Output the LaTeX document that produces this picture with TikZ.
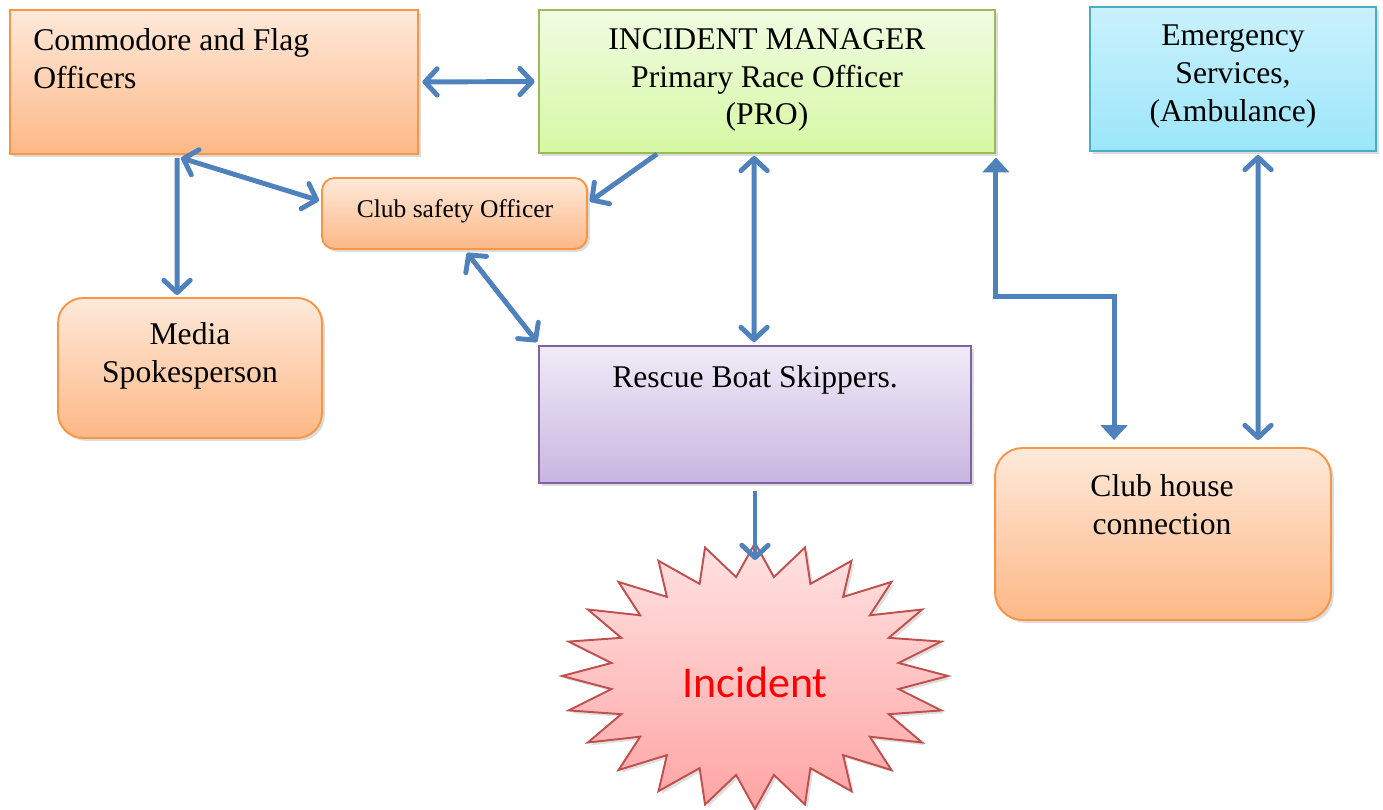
\documentclass[tikz,border=0pt]{standalone}
\usepackage{fontspec}
\setmainfont{Liberation Serif}
\newfontfamily\burstfont{Carlito}
\usetikzlibrary{arrows.meta,shadows,calc}
\definecolor{arrowblue}{HTML}{4F81BD}
\definecolor{orangetop}{HTML}{FEE9DA}
\definecolor{orangebot}{HTML}{FDB886}
\definecolor{orangeedge}{HTML}{F79646}
\definecolor{greentop}{HTML}{F0FCE2}
\definecolor{greenbot}{HTML}{D6F8A3}
\definecolor{greenedge}{HTML}{9BBB59}
\definecolor{bluetop}{HTML}{CAF1FC}
\definecolor{bluebot}{HTML}{9CE6FA}
\definecolor{blueedge}{HTML}{4BACC6}
\definecolor{purptop}{HTML}{F0EBF7}
\definecolor{purpbot}{HTML}{C8B6E1}
\definecolor{purpedge}{HTML}{8064A2}
\definecolor{redtop}{HTML}{FFE2E2}
\definecolor{redbot}{HTML}{FFA4A4}
\definecolor{rededge}{HTML}{C0504D}
\definecolor{incred}{HTML}{FF0000}
\tikzset{
  chev/.tip={Straight Barb[length=7pt,width=15pt,round]},
  tri/.tip={Triangle[length=8.5pt,width=15pt]},
}
\begin{document}
\begin{tikzpicture}[x=0.02cm,y=-0.02cm,
  box/.style={draw, line width=1.1pt, inner sep=0pt,
    drop shadow={opacity=0.28, shadow xshift=1.6pt, shadow yshift=-1.6pt}},
  orangebox/.style={box, draw=orangeedge, top color=orangetop, bottom color=orangebot},
  greenbox/.style={box, draw=greenedge, top color=greentop, bottom color=greenbot},
  bluebox/.style={box, draw=blueedge, top color=bluetop, bottom color=bluebot},
  purpbox/.style={box, draw=purpedge, top color=purptop, bottom color=purpbot},
  txt/.style={font=\fontsize{18}{21.5}\selectfont, align=center, inner sep=0pt},
  conn/.style={draw=arrowblue, line width=2.8pt},
]
\useasboundingbox (0,0) rectangle (1383,810);

% boxes
\node[orangebox, minimum width=8.16cm, minimum height=2.88cm] (cmd) at (214,82) {};
\node[greenbox, minimum width=9.12cm, minimum height=2.86cm] (im) at (767,81.5) {};
\node[bluebox, minimum width=5.72cm, minimum height=2.88cm] (em) at (1233,79) {};
\node[orangebox, rounded corners=0.25cm, minimum width=5.3cm, minimum height=1.42cm] (cso) at (454.5,213.5) {};
\node[orangebox, rounded corners=0.5cm, minimum width=5.28cm, minimum height=2.8cm] (med) at (190,368) {};
\node[purpbox, minimum width=8.64cm, minimum height=2.74cm] (rbs) at (755,414.5) {};
\node[orangebox, rounded corners=0.55cm, minimum width=6.72cm, minimum height=3.44cm] (chc) at (1163,534) {};

% starburst
\path[draw=rededge, line width=1.1pt, top color=redtop, bottom color=redbot,
  drop shadow={opacity=0.25, shadow xshift=1.6pt, shadow yshift=-1.6pt}]
  plot[samples=48, domain=0:47, variable=\k]
  ({755+193*ifthenelse(mod(\k,2)<0.5,1,0.75)*cos(90-7.5*\k)},
   {676-133*ifthenelse(mod(\k,2)<0.5,1,0.75)*sin(90-7.5*\k)}) -- cycle;
\coordinate (burstTop) at (755,560);

% texts
\node[txt, anchor=north west, align=left] (cmdT) at (33,28) {Commodore and Flag\\Officers};
\node[txt] (imT) at (767,80) {INCIDENT MANAGER\\Primary Race Officer\\(PRO)};
\node[txt] (emT) at (1233,76.5) {Emergency\\Services,\\(Ambulance)};
\node[txt, font=\fontsize{14.5}{17}\selectfont] (csoT) at (455,211) {Club safety Officer};
\node[txt] (medT) at (190,356) {Media\\Spokesperson};
\node[txt] (rbsT) at (755,380) {Rescue Boat Skippers.};
\node[txt] (chcT) at (1162,505) {Club house\\connection};
\node[font=\burstfont\fontsize{25}{30}\selectfont, text=incred, inner sep=0pt] (incT) at (755,682) {Incident};

% connectors
\draw[conn, chev-chev] ([xshift=2pt]cmd.east) -- ([xshift=-2pt]im.west);
\draw[conn, chev-chev] ($(cmd.south west)+(172,3)$) -- ($(cso.west)+(-2,-13)$);
\draw[conn, -chev] ($(cmd.south west)+(168,3)$) -- ($(med.north west)+(120,-2)$);
\draw[conn, -chev] ($(im.south west)+(119,0)$) -- ($(cso.east)+(2,-12)$);
\draw[conn, chev-chev] ($(im.south west)+(216,2)$) -- ($(rbs.north west)+(216,-3)$);
\draw[conn, chev-chev] ($(cso.south west)+(146,3)$) -- ($(rbs.north west)+(-1,-3)$);
\draw[conn, tri-tri, line join=miter] ([yshift=-2pt]im.south east) |- ($(chc.north west)+(120,-151)$) -- ($(chc.north west)+(120,-7)$);
\draw[conn, chev-chev] ($(em.south west)+(169,3)$) -- ($(chc.north west)+(264,-7)$);
\draw[conn, -chev] ($(rbs.south)+(0,7)$) -- (burstTop);
\end{tikzpicture}
\end{document}
